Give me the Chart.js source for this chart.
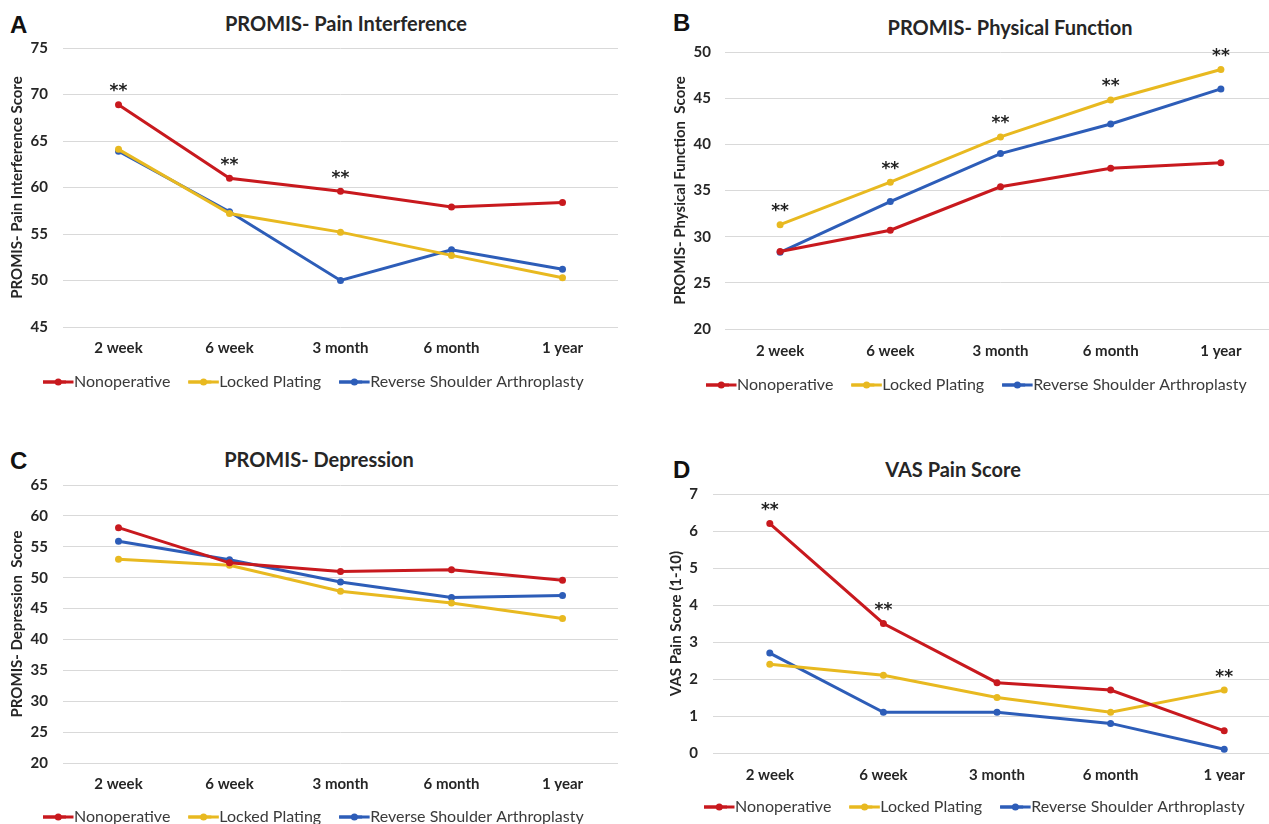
<!DOCTYPE html>
<html>
<head>
<meta charset="utf-8">
<script src="https://cdn.jsdelivr.net/npm/chart.js@4.4.1/dist/chart.umd.min.js"></script>
<style>
  body { margin: 0; background: #fff; width: 1269px; height: 824px; overflow: hidden; position: relative; }
  canvas { position: absolute; }
  .letter { position: absolute; font: bold 24px "Liberation Sans", Arial, sans-serif; line-height: 24px; color: #111; }
  .title { position: absolute; transform: translateX(-50%); white-space: nowrap; font: bold 20px Lato, sans-serif; line-height: 24px; color: #262626; }
</style>
</head>
<body>
<div class="letter" style="left:10px;top:13px">A</div>
<div class="letter" style="left:673px;top:11px">B</div>
<div class="letter" style="left:10px;top:449px">C</div>
<div class="letter" style="left:673px;top:458px">D</div>
<div class="title" style="left:346px;top:11px">PROMIS- Pain Interference</div>
<div class="title" style="left:1010px;top:15px">PROMIS- Physical Function</div>
<div class="title" style="left:319px;top:447px">PROMIS- Depression</div>
<div class="title" style="left:953px;top:457px">VAS Pain Score</div>
<canvas id="painChart" width="640" height="410" style="left:0;top:0"></canvas>
<canvas id="physChart" width="650" height="410" style="left:640px;top:0"></canvas>
<canvas id="depChart" width="640" height="412" style="left:0;top:430px"></canvas>
<canvas id="vasChart" width="650" height="402" style="left:640px;top:430px"></canvas>
<script>
const timepoints = ['2 week', '6 week', '3 month', '6 month', '1 year'];
const seriesNames = ['Nonoperative', 'Locked Plating', 'Reverse Shoulder Arthroplasty'];

const painNonop = [68.9, 61.0, 59.6, 57.9, 58.4];
const painLocked = [64.1, 57.2, 55.2, 52.7, 50.3];
const painRsa = [63.9, 57.4, 50.0, 53.3, 51.2];
const painSig = [true, true, true, false, false];

const physNonop = [28.4, 30.7, 35.4, 37.4, 38.0];
const physLocked = [31.3, 35.9, 40.8, 44.8, 48.1];
const physRsa = [28.3, 33.8, 39.0, 42.2, 46.0];
const physSig = [true, true, true, true, true];

const depNonop = [58.1, 52.4, 51.0, 51.3, 49.6];
const depLocked = [53.0, 52.0, 47.8, 45.9, 43.4];
const depRsa = [55.9, 52.9, 49.3, 46.8, 47.1];
const depSig = [false, false, false, false, false];

const vasNonop = [6.2, 3.5, 1.9, 1.7, 0.6];
const vasLocked = [2.4, 2.1, 1.5, 1.1, 1.7];
const vasRsa = [2.7, 1.1, 1.1, 0.8, 0.1];
const vasSig = [true, true, false, false, true];

const colors = ['#c8191e', '#e8b920', '#2d5db8'];
const textColor = '#262626';
const boldFont = 'Lato, "Open Sans", sans-serif';

// "**" above the highest point of each flagged time point
const sigStars = {
  id: 'sigStars',
  afterDatasetsDraw(chart, args, opts) {
    const ctx = chart.ctx;
    ctx.save();
    ctx.font = 'bold 17px "DejaVu Sans", sans-serif';
    ctx.fillStyle = '#222';
    ctx.textAlign = 'center';
    ctx.textBaseline = 'middle';
    (opts.flags || []).forEach((on, i) => {
      if (!on) return;
      let top = Infinity, x = 0;
      chart.data.datasets.forEach((ds, d) => {
        const pt = chart.getDatasetMeta(d).data[i];
        if (pt.y < top) { top = pt.y; x = pt.x; }
      });
      ctx.fillText('**', x, top - 13);
    });
    ctx.restore();
  }
};

// legend marker: line running up to the text, with a dot in the middle
const legendDots = {
  id: 'legendDots',
  afterDraw(chart) {
    const lg = chart.legend;
    if (!lg || !lg.legendHitBoxes) return;
    const ctx = chart.ctx;
    const bw = lg.options.labels.boxWidth;
    const fs = lg.options.labels.font.size;
    const len = bw + fs / 2 - 0.5;
    lg.legendHitBoxes.forEach((hb, i) => {
      const cy = hb.top + fs / 2;
      ctx.save();
      ctx.fillStyle = colors[i];
      ctx.fillRect(hb.left, cy - 1.5, len, 3);
      ctx.beginPath();
      ctx.arc(hb.left + len / 2, cy, 3.5, 0, Math.PI * 2);
      ctx.fill();
      ctx.restore();
    });
  }
};

function makeChart(id, cfg) {
  new Chart(document.getElementById(id), {
    type: 'line',
    data: {
      labels: timepoints,
      datasets: cfg.series.map((vals, i) => ({
        label: seriesNames[i],
        data: vals,
        borderColor: colors[i],
        backgroundColor: colors[i],
        pointBackgroundColor: colors[i],
        borderWidth: 3,
        pointRadius: 3.5,
        pointBorderWidth: 0,
        tension: 0
      }))
    },
    options: {
      responsive: false,
      animation: false,
      layout: { padding: cfg.pad },
      plugins: {
        title: { display: false },
        legend: {
          position: 'bottom',
          align: 'start',
          labels: {
            boxWidth: 23,
            boxHeight: 3,
            padding: 18,
            color: '#3a3a3a',
            font: { family: boldFont, size: 16 },
            generateLabels: chart => Chart.defaults.plugins.legend.labels.generateLabels(chart)
              .map(l => Object.assign(l, { lineWidth: 0 }))
          }
        },
        tooltip: { enabled: false },
        sigStars: { flags: cfg.sig }
      },
      scales: {
        x: {
          offset: true,
          grid: { display: false, drawTicks: false },
          border: { display: false },
          ticks: { color: textColor, padding: cfg.xPad, font: { family: boldFont, size: 15, weight: 'bold' } },
          afterFit: s => { s.height = cfg.xH; }
        },
        y: {
          min: cfg.min,
          max: cfg.max,
          grid: { color: '#d9d9d9', drawTicks: false },
          border: { display: false },
          ticks: { stepSize: cfg.step, color: textColor, padding: cfg.yPad, font: { family: boldFont, size: 15, weight: 'bold' } },
          title: {
            display: true,
            text: cfg.yTitle,
            color: textColor,
            font: { family: boldFont, size: 15, weight: 'bold' },
            padding: { top: cfg.yTitleOff, bottom: 0 }
          },
          afterFit: s => { s.width = cfg.yW; }
        }
      }
    },
    plugins: [sigStars, legendDots]
  });
}

makeChart('painChart', {
  yTitle: 'PROMIS- Pain Interference Score',
  series: [painNonop, painLocked, painRsa],
  sig: painSig,
  min: 45, max: 75, step: 5,
  pad: { left: 25, right: 22, top: 48, bottom: 10 },
  yW: 38, yPad: 15, yTitleOff: -17,
  xH: 29, xPad: 12
});

makeChart('physChart', {
  yTitle: 'PROMIS- Physical Function  Score',
  series: [physNonop, physLocked, physRsa],
  sig: physSig,
  min: 20, max: 50, step: 5,
  pad: { left: 48, right: 14, top: 52, bottom: 7 },
  yW: 37, yPad: 14, yTitleOff: -17,
  xH: 30, xPad: 13
});

makeChart('depChart', {
  yTitle: 'PROMIS- Depression  Score',
  series: [depNonop, depLocked, depRsa],
  sig: depSig,
  min: 20, max: 65, step: 5,
  pad: { left: 25, right: 22, top: 55, bottom: 7 },
  yW: 38, yPad: 15, yTitleOff: -17,
  xH: 28, xPad: 12
});

makeChart('vasChart', {
  yTitle: 'VAS Pain Score (1-10)',
  series: [vasNonop, vasLocked, vasRsa],
  sig: vasSig,
  min: 0, max: 7, step: 1,
  pad: { left: 46, right: 9, top: 64, bottom: 7 },
  yW: 27, yPad: 15, yTitleOff: -19,
  xH: 28, xPad: 13
});
</script>
</body>
</html>
